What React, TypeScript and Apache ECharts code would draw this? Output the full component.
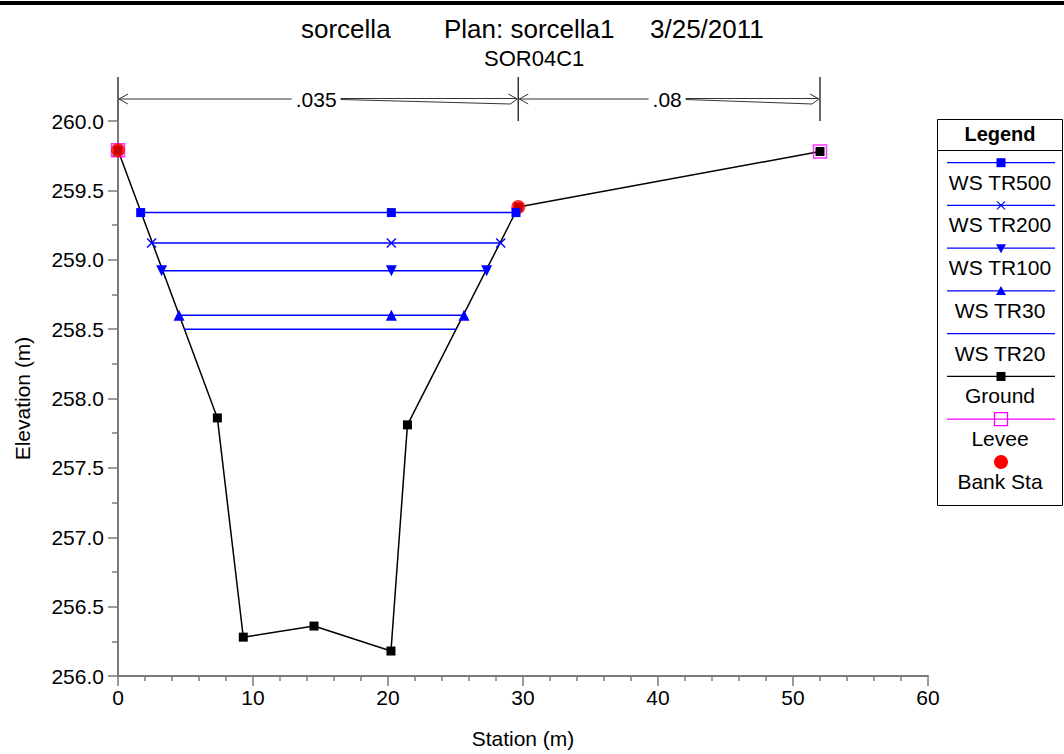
import React, { useEffect, useRef } from "react";
import * as echarts from "echarts";

// ---------- data ----------
const titleParts = ["sorcella", "Plan: sorcella1", "3/25/2011"];
const subtitleText = "SOR04C1";
const xAxisName = "Station (m)";
const yAxisName = "Elevation (m)";

const groundStation = [0, 7.36, 9.28, 14.52, 20.22, 21.44, 29.65, 52.0];
const groundElev = [259.79, 257.86, 256.28, 256.36, 256.18, 257.81, 259.38, 259.78];

const wsNames = ["WS TR500", "WS TR200", "WS TR100", "WS TR30", "WS TR20"];
const wsElev = [259.34, 259.12, 258.92, 258.6, 258.5];
const wsLeftStation = [1.68, 2.49, 3.23, 4.52, 4.89];
const wsMidStation = [20.25, 20.25, 20.25, 20.25, 20.25];
const wsRightStation = [29.48, 28.35, 27.31, 25.63, 25.04];

const leveeStation = [0, 52.0];
const leveeElev = [259.79, 259.78];

const bankStation = [0, 29.65];
const bankElev = [259.79, 259.38];

const nStations = [0, 29.65, 52.0];
const nValues = [".035", ".08"];

// ---------- styles ----------
const FONT = '"Liberation Sans", Arial, sans-serif';
const BLUE = "#0000ff";
const CROSS_PATH =
  "path://M0,1L1,0L5,4L9,0L10,1L6,5L10,9L9,10L5,6L1,10L0,9L4,5Z";
const wsSymbols = [
  { symbol: "rect", size: 9, rotate: 0 },
  { symbol: CROSS_PATH, size: 10, rotate: 0 },
  { symbol: "triangle", size: 11, rotate: 180 },
  { symbol: "triangle", size: 11, rotate: 0 },
  { symbol: "none", size: 0, rotate: 0 },
];

function measure(text: string, font: string): number {
  const c = document.createElement("canvas").getContext("2d");
  if (!c) return text.length * 10;
  c.font = font;
  return c.measureText(text).width;
}

function buildGraphics(chart: echarts.ECharts) {
  const g: any[] = [];
  // top border
  g.push({
    type: "rect",
    shape: { x: 0, y: 1, width: 1064, height: 4 },
    style: { fill: "#000" },
    silent: true,
  });

  // Manning's n markers
  const pts = nStations.map(
    (s) => chart.convertToPixel({ gridIndex: 0 }, [s, 260]) as number[]
  );
  const baseY = pts[0][1];
  const topY = baseY - 44;
  const ay = (topY + baseY) / 2;
  const lineStyle = { stroke: "#333", lineWidth: 1 };
  pts.forEach((p) => {
    g.push({
      type: "line",
      shape: { x1: p[0], y1: topY, x2: p[0], y2: baseY },
      style: { stroke: "#333", lineWidth: 1.5 },
      silent: true,
    });
  });
  const nFont = `21px ${FONT}`;
  nValues.forEach((v, i) => {
    const x0 = pts[i][0];
    const x1 = pts[i + 1][0];
    const cx = (x0 + x1) / 2 - 2;
    const hw = measure(v, nFont) / 2;
    const tl = cx - hw - 4;
    const tr = cx + hw + 4;
    g.push({
      type: "polyline",
      shape: { points: [[x0 + 10, ay - 5], [x0 + 1, ay], [x0 + 10, ay + 5]] },
      style: lineStyle,
      silent: true,
    });
    g.push({
      type: "line",
      shape: { x1: x0 + 1, y1: ay, x2: tl, y2: ay },
      style: lineStyle,
      silent: true,
    });
    g.push({
      type: "line",
      shape: { x1: tr, y1: ay - 0.5, x2: x1 - 2, y2: ay - 0.5 },
      style: lineStyle,
      silent: true,
    });
    g.push({
      type: "polyline",
      shape: {
        points: [[tr, ay + 0.5], [x1 - 8, ay + 5], [x1 - 1, ay], [x1 - 10, ay - 5]],
      },
      style: lineStyle,
      silent: true,
    });
    g.push({
      type: "text",
      x: cx,
      y: ay,
      style: {
        text: v,
        font: nFont,
        fill: "#000",
        align: "center",
        verticalAlign: "middle",
      },
      silent: true,
    });
  });

  // legend box
  const lx0 = 937;
  const lx1 = 1062;
  const lcx = 1001;
  g.push({
    type: "rect",
    shape: { x: lx0 + 0.5, y: 119.5, width: lx1 - lx0, height: 386 },
    style: { fill: "#fff", stroke: "#000", lineWidth: 1 },
    silent: true,
  });
  g.push({
    type: "line",
    shape: { x1: lx0, y1: 150.5, x2: lx1, y2: 150.5 },
    style: { stroke: "#000", lineWidth: 1 },
    silent: true,
  });
  g.push({
    type: "text",
    x: lcx - 1,
    y: 134,
    style: {
      text: "Legend",
      font: `bold 20px ${FONT}`,
      fill: "#000",
      align: "center",
      verticalAlign: "middle",
    },
    silent: true,
  });
  const items = [
    ...wsNames.map((n, i) => ({ name: n, kind: "ws" + i, color: BLUE })),
    { name: "Ground", kind: "ground", color: "#000" },
    { name: "Levee", kind: "levee", color: "#ff00ff" },
    { name: "Bank Sta", kind: "bank", color: "#ff0000" },
  ];
  items.forEach((it, i) => {
    const ly = 162.7 + i * 42.75;
    const ty = ly + 19.5;
    if (it.kind !== "bank") {
      g.push({
        type: "line",
        shape: { x1: 947, y1: ly, x2: 1055, y2: ly },
        style: { stroke: it.color, lineWidth: 1.2 },
        silent: true,
      });
    }
    if (it.kind === "ws0" || it.kind === "ground") {
      g.push({
        type: "rect",
        shape: { x: lcx - 4.5, y: ly - 4.5, width: 9, height: 9 },
        style: { fill: it.color },
        silent: true,
      });
    } else if (it.kind === "ws1") {
      g.push({
        type: "line",
        shape: { x1: lcx - 4, y1: ly - 4, x2: lcx + 4, y2: ly + 4 },
        style: { stroke: BLUE, lineWidth: 1.2 },
        silent: true,
      });
      g.push({
        type: "line",
        shape: { x1: lcx - 4, y1: ly + 4, x2: lcx + 4, y2: ly - 4 },
        style: { stroke: BLUE, lineWidth: 1.2 },
        silent: true,
      });
    } else if (it.kind === "ws2") {
      g.push({
        type: "polygon",
        shape: { points: [[lcx - 5, ly - 4], [lcx + 5, ly - 4], [lcx, ly + 5]] },
        style: { fill: BLUE },
        silent: true,
      });
    } else if (it.kind === "ws3") {
      g.push({
        type: "polygon",
        shape: { points: [[lcx - 5, ly + 4], [lcx + 5, ly + 4], [lcx, ly - 5]] },
        style: { fill: BLUE },
        silent: true,
      });
    } else if (it.kind === "levee") {
      g.push({
        type: "rect",
        shape: { x: lcx - 6.5, y: ly - 6.5, width: 13, height: 13 },
        style: { fill: "none", stroke: "#ff00ff", lineWidth: 1.3 },
        silent: true,
      });
    } else if (it.kind === "bank") {
      g.push({
        type: "circle",
        shape: { cx: lcx, cy: ly, r: 7 },
        style: { fill: "#ff0000" },
        silent: true,
      });
    }
    g.push({
      type: "text",
      x: lcx - 1,
      y: ty,
      style: {
        text: it.name,
        font: `21px ${FONT}`,
        fill: "#000",
        align: "center",
        verticalAlign: "middle",
      },
      silent: true,
    });
  });
  return g;
}

export default function App() {
  const ref = useRef<HTMLDivElement>(null);
  useEffect(() => {
    if (!ref.current) return;
    const chart = echarts.init(ref.current, undefined, { renderer: "svg" });
    const axisGray = "#7a7a7a";
    const titleStyle = { fontSize: 26, fontWeight: "normal", color: "#000", fontFamily: FONT, lineHeight: 26 };
    const titleLefts = [301, 444, 650];
    const series: any[] = [
      {
        name: "Ground",
        type: "line",
        data: groundStation.map((s, i) => [s, groundElev[i]]),
        symbol: "rect",
        symbolSize: 9,
        showAllSymbol: true,
        itemStyle: { color: "#000" },
        lineStyle: { color: "#000", width: 1.5 },
        z: 2,
      },
      {
        name: "Levee",
        type: "scatter",
        data: leveeStation.map((s, i) => [s, leveeElev[i]]),
        symbol: "rect",
        symbolSize: 13,
        itemStyle: { color: "rgba(0,0,0,0)", borderColor: "#ff00ff", borderWidth: 1.5 },
        z: 3,
      },
      {
        name: "Bank Sta",
        type: "scatter",
        data: bankStation.map((s, i) => [s, bankElev[i]]),
        symbol: "circle",
        symbolSize: 14,
        itemStyle: { color: "#ff0000" },
        z: 4,
      },
      ...wsNames.map((n, i) => ({
        name: n,
        type: "line",
        data: [
          [wsLeftStation[i], wsElev[i]],
          [wsMidStation[i], wsElev[i]],
          [wsRightStation[i], wsElev[i]],
        ],
        symbol: wsSymbols[i].symbol,
        symbolSize: wsSymbols[i].size,
        symbolRotate: wsSymbols[i].rotate,
        showSymbol: wsSymbols[i].symbol !== "none",
        showAllSymbol: true,
        itemStyle: { color: BLUE },
        lineStyle: { color: BLUE, width: 1.5 },
        z: 5,
      })),
    ];
    chart.setOption({
      animation: false,
      backgroundColor: "#fff",
      title: [
        ...titleParts.map((t, i) => ({
          text: t,
          left: titleLefts[i],
          top: 16,
          padding: 0,
          textStyle: titleStyle,
        })),
        {
          text: subtitleText,
          left: 484,
          top: 47,
          padding: 0,
          textStyle: { fontSize: 22, fontWeight: "normal", color: "#000", fontFamily: FONT, lineHeight: 22 },
        },
      ],
      grid: { left: 118, right: 136, top: 121, bottom: 77, containLabel: false },
      xAxis: {
        type: "value",
        min: 0,
        max: 60,
        interval: 10,
        name: xAxisName,
        nameLocation: "middle",
        nameGap: 52,
        nameTextStyle: { fontSize: 21, color: "#000", fontFamily: FONT },
        axisLine: { show: true, onZero: false, lineStyle: { color: axisGray, width: 2 } },
        axisTick: { show: true, inside: false, length: 10, lineStyle: { color: axisGray, width: 1.5 } },
        minorTick: { show: true, splitNumber: 5, length: 5, lineStyle: { color: axisGray, width: 1.5 } },
        axisLabel: { fontSize: 21, color: "#000", fontFamily: FONT, margin: 11 },
        splitLine: { show: false },
      },
      yAxis: {
        type: "value",
        min: 256,
        max: 260,
        interval: 0.5,
        name: yAxisName,
        nameLocation: "middle",
        nameRotate: 90,
        nameGap: 85,
        nameTextStyle: { fontSize: 21, color: "#000", fontFamily: FONT },
        axisLine: { show: true, onZero: false, lineStyle: { color: axisGray, width: 2 } },
        axisTick: { show: true, inside: false, length: 10, lineStyle: { color: axisGray, width: 1.5 } },
        minorTick: { show: true, splitNumber: 2, length: 6, lineStyle: { color: axisGray, width: 1.5 } },
        axisLabel: {
          fontSize: 21,
          color: "#000",
          fontFamily: FONT,
          margin: 14,
          formatter: (v: number) => v.toFixed(1),
        },
        splitLine: { show: false },
      },
      series,
    });
    chart.setOption({ graphic: buildGraphics(chart) });
    return () => chart.dispose();
  }, []);
  return (
    <div
      ref={ref}
      style={{ position: "absolute", left: 0, top: 0, width: 1064, height: 754, background: "#fff" }}
    />
  );
}
